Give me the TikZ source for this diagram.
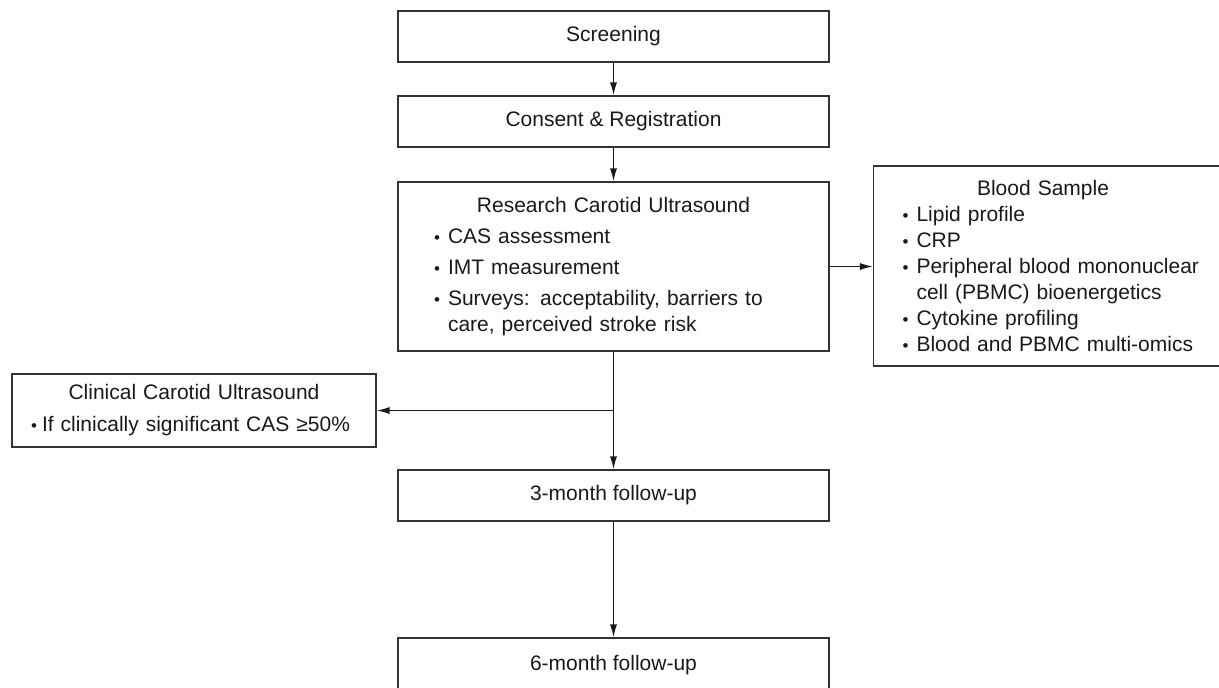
\documentclass[tikz,border=0pt]{standalone}
\usepackage{fontspec}
\setmainfont{Liberation Sans}
\usetikzlibrary{arrows.meta}
\newlength{\itemgap}
\newlength{\bulgap}
\setlength{\bulgap}{4pt}
\newcommand{\bul}{{\fontsize{8.5}{8.5}\selectfont\symbol{"2022}}}
\newcommand{\litem}[1]{\par\vskip\itemgap\noindent\llap{\bul\hspace{\bulgap}}#1}
\newcommand{\ttl}[1]{{\centering #1\par}}

\begin{document}
\begin{tikzpicture}[x=0.5pt,y=-0.5pt,
	every node/.append style={font=\fontsize{10.5}{12.75}\selectfont,text=black!90},
	stage/.style={draw=black!80,line width=0.7pt,minimum width=215.5pt,minimum height=25.5pt,inner sep=0pt},
	flow/.style={draw=black!90,line width=0.7pt,-{Latex[length=6.5pt,width=3.6pt]}}]
\path[use as bounding box,clip] (0,0) rectangle (1219,687);
\node(screen) [stage] at (613.5,36.5) {Screening};
\node(consent) [stage] at (613.5,121.5) {Consent \& Registration};
\node(research) [stage,minimum height=84.5pt,text width=215.5pt] at (613.5,266.5)
	{\ttl{Research Carotid Ultrasound}\setlength{\itemgap}{2.75pt}\leftskip=25pt\rightskip=0pt plus 1fil
	\litem{CAS assessment}\litem{IMT measurement}\litem{Surveys: acceptability, barriers to\newline care, perceived stroke risk}\par};
\node(blood) [stage,minimum width=177.5pt,minimum height=100pt,text width=177.5pt] at (1051,266)
	{\fontsize{10.5}{13}\selectfont\ttl{Blood Sample\hspace*{8pt}}\setlength{\itemgap}{0pt}\leftskip=21.5pt\rightskip=0pt plus 1fil
	\litem{Lipid profile}\litem{CRP}\litem{Peripheral blood mononuclear\newline cell (PBMC) bioenergetics}\litem{Cytokine profiling}\litem{Blood and PBMC multi-omics}\par};
\node(clinical) [stage,minimum width=182pt,minimum height=36.5pt,text width=182pt] at (194,410.5)
	{\ttl{Clinical Carotid Ultrasound}\setlength{\itemgap}{3.25pt}\setlength{\bulgap}{2.5pt}\leftskip=15pt\rightskip=0pt plus 1fil
	\litem{If clinically significant CAS ≥50\%}\par};
\node(threem) [stage] at (613.5,495.5) {3-month follow-up};
\node(sixm) [stage,minimum height=27.5pt] at (613.5,665.5) {6-month follow-up};
\coordinate (split) at (research.south |- clinical.east);
\draw[flow] (screen) -- (consent);
\draw[flow] (consent) -- (research);
\draw[flow] (research.east) -- (research.east -| blood.west);
\draw[flow] (research) -- (threem);
\draw[flow] (split) -- (clinical.east);
\draw[flow] (threem) -- (sixm);
\end{tikzpicture}
\end{document}
